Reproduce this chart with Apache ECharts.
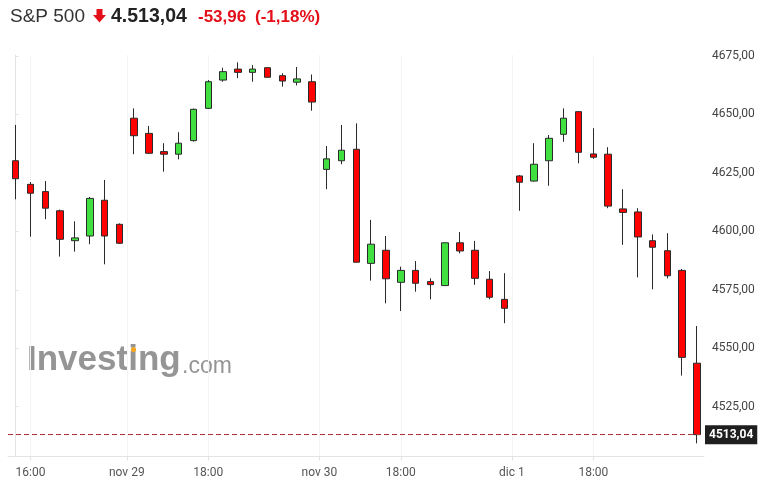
<!DOCTYPE html>
<html>
<head>
<meta charset="utf-8">
<script src="https://cdn.jsdelivr.net/npm/echarts@6/dist/echarts.min.js"></script>
<style>
html,body{margin:0;padding:0;background:#fff;}
#chart{width:764px;height:490px;}
</style>
</head>
<body>
<div id="chart"></div>
<script>
// 30-minute candles (local exchange time labels)
const days = ['nov 26', 'nov 29', 'nov 30', 'dic 1'];
const dayTimes = [
  ['15:30','16:00','16:30','17:00','17:30','18:00','18:30','19:00'],
  ['15:30','16:00','16:30','17:00','17:30','18:00','18:30','19:00','19:30','20:00','20:30','21:00','21:30'],
  ['15:30','16:00','16:30','17:00','17:30','18:00','18:30','19:00','19:30','20:00','20:30','21:00','21:30'],
  ['15:30','16:00','16:30','17:00','17:30','18:00','18:30','19:00','19:30','20:00','20:30','21:00','21:30']
];
const openV  = [4630.2,4620.1,4617.0,4608.8,4596.0,4598.0,4613.3,4603.0,
                4648.4,4641.9,4634.1,4633.0,4638.8,4652.6,4664.7,4669.4,4668.0,4670.0,4666.6,4663.8,4664.0,
                4626.5,4630.2,4635.1,4586.3,4591.9,4578.2,4583.3,4578.5,4576.8,4595.1,4591.9,4579.5,4570.9,
                4623.7,4621.5,4630.2,4641.5,4651.2,4633.1,4633.0,4609.6,4608.3,4596.0,4591.7,4583.3,4543.6];
const closeV = [4622.5,4616.3,4609.9,4596.6,4597.2,4614.1,4598.0,4594.9,
                4640.9,4633.4,4633.0,4637.7,4652.2,4664.0,4668.3,4668.0,4669.4,4665.9,4664.3,4665.2,4655.3,
                4631.0,4634.7,4586.8,4594.5,4579.7,4583.3,4577.8,4577.2,4595.1,4591.6,4579.9,4571.8,4567.1,
                4621.0,4628.7,4639.8,4648.4,4633.8,4631.7,4610.8,4608.1,4597.6,4593.2,4581.0,4546.1,4513.04];
const lowV   = [4613.7,4597.7,4605.2,4589.2,4591.3,4594.5,4585.9,4594.6,
                4633.0,4633.1,4625.5,4630.8,4638.4,4652.3,4664.0,4665.5,4664.0,4665.8,4661.9,4662.4,4651.6,
                4618.0,4628.7,4586.7,4578.9,4569.2,4565.9,4574.2,4570.9,4576.6,4590.6,4577.1,4570.9,4560.7,
                4608.8,4621.3,4619.5,4638.3,4629.1,4631.0,4609.9,4594.2,4580.3,4575.2,4579.9,4538.3,4509.3];
const highV  = [4645.5,4621.1,4621.5,4609.3,4604.3,4614.7,4622.0,4603.4,
                4652.6,4645.1,4637.7,4642.4,4652.5,4664.7,4670.0,4672.3,4671.1,4670.2,4667.6,4670.3,4667.1,
                4636.5,4645.5,4646.2,4604.9,4598.0,4584.9,4587.3,4579.9,4595.2,4599.7,4595.9,4583.0,4582.1,
                4624.1,4637.7,4641.2,4652.6,4651.3,4644.1,4636.0,4618.0,4609.9,4598.7,4599.2,4583.9,4559.5];
const priceTicks = [4525, 4550, 4575, 4600, 4625, 4650, 4675];
const lastPrice = 4513.04;
const titleName = 'S&P 500';
const titlePrice = '4.513,04';
const titleChange = '-53,96';
const titlePct = '(-1,18%)';
const watermark1 = 'Investing';
const watermark2 = '.com';

// build flat time list and axis labels from the data
const times = [];
const dayOf = [];
dayTimes.forEach((arr, d) => arr.forEach(t => { times.push(t); dayOf.push(d); }));
const xTickVals = [];
const xTickText = {};
times.forEach((t, i) => {
  if (i > 0 && dayOf[i] !== dayOf[i - 1]) {
    const v = i - 0.5;
    xTickVals.push(v); xTickText[v] = days[dayOf[i]];
  }
  if ((dayOf[i] === 0 && t === '16:00') || (dayOf[i] > 0 && t === '18:00')) {
    xTickVals.push(i); xTickText[i] = t;
  }
});
xTickVals.sort((a, b) => a - b);
const candleData = times.map((t, i) => [i, openV[i], closeV[i], lowV[i], highV[i]]);
const fmt = v => v.toFixed(2).replace('.', ',');

const chart = echarts.init(document.getElementById('chart'), null, {renderer: 'canvas'});
chart.setOption({
  animation: false,
  backgroundColor: '#ffffff',
  grid: {left: 8, right: 60, top: 55, bottom: 33.3, containLabel: false},
  xAxis: {
    type: 'value',
    min: -0.52, max: 46.47,
    axisLine: {show: true, lineStyle: {color: '#e3e3e3', width: 1}},
    axisTick: {show: true, length: 4, lineStyle: {color: '#e3e3e3'}, customValues: xTickVals},
    splitLine: {show: true, lineStyle: {color: '#f4f4f4', width: 1}},
    axisLabel: {
      customValues: xTickVals,
      formatter: v => xTickText[v] !== undefined ? xTickText[v] : (xTickText[Math.round(v * 2) / 2] || ''),
      color: '#555', fontSize: 12, fontFamily: 'Roboto', margin: 10
    }
  },
  yAxis: {
    type: 'value',
    position: 'right',
    min: 4503.6, max: 4675.43,
    axisLine: {show: true, lineStyle: {color: '#e3e3e3', width: 1}},
    axisTick: {show: true, length: 3, lineStyle: {color: '#e6e6e6'}, customValues: priceTicks},
    splitLine: {show: false},
    axisLabel: {
      customValues: priceTicks,
      formatter: v => fmt(v),
      color: '#444', fontSize: 12, fontFamily: 'Roboto', margin: 8
    }
  },
  series: [{
    type: 'candlestick',
    data: candleData,
    encode: {x: 0, y: [1, 2, 3, 4]},
    barWidth: 7,
    itemStyle: {
      color: '#3fe03f', color0: '#ff0000',
      borderColor: '#2a2a2a', borderColor0: '#2a2a2a', borderWidth: 1
    },
    markLine: {
      silent: true,
      symbol: 'none',
      lineStyle: {color: '#a8323a', type: [5, 3], width: 1},
      label: {
        show: true, position: 'end', distance: 1,
        formatter: () => fmt(lastPrice),
        backgroundColor: '#1f1f1f', color: '#ffffff', fontWeight: 'bold',
        fontSize: 12, fontFamily: 'Roboto', padding: [4, 4, 3, 4]
      },
      data: [{yAxis: lastPrice}]
    },
    z: 3
  }],
  graphic: [
    {type: 'text', left: 10, top: 7, style: {text: titleName, fontSize: 19, fontFamily: 'Liberation Sans', fill: '#333'}},
    {type: 'polygon', shape: {points: [[96.5,9],[102.5,9],[102.5,15],[106,15],[99.5,22.5],[93,15],[96.5,15]]}, style: {fill: '#e3101a'}},
    {type: 'text', left: 111, top: 7, style: {text: titlePrice, fontSize: 19.5, fontWeight: 'bold', fontFamily: 'Liberation Sans', fill: '#222'}},
    {type: 'text', left: 198, top: 9, style: {text: titleChange, fontSize: 17, fontWeight: 'bold', fontFamily: 'Liberation Sans', fill: '#e3101a'}},
    {type: 'text', left: 255, top: 9, style: {text: titlePct, fontSize: 17, fontWeight: 'bold', fontFamily: 'Liberation Sans', fill: '#e3101a'}},
    {type: 'text', left: 27, top: 343, z: 0, style: {text: watermark1, fontSize: 35, fontWeight: 'bold', fontFamily: 'Liberation Sans', fill: '#8a8a8a', opacity: 0.9}},
    {type: 'text', left: 182, top: 355, z: 0, style: {text: watermark2, fontSize: 23, fontFamily: 'Liberation Sans', fill: '#8a8a8a', opacity: 0.9}},
    {type: 'circle', shape: {cx: 133.5, cy: 349.5, r: 2.6}, z: 1, style: {fill: '#f5a623'}}
  ]
});
</script>
</body>
</html>
